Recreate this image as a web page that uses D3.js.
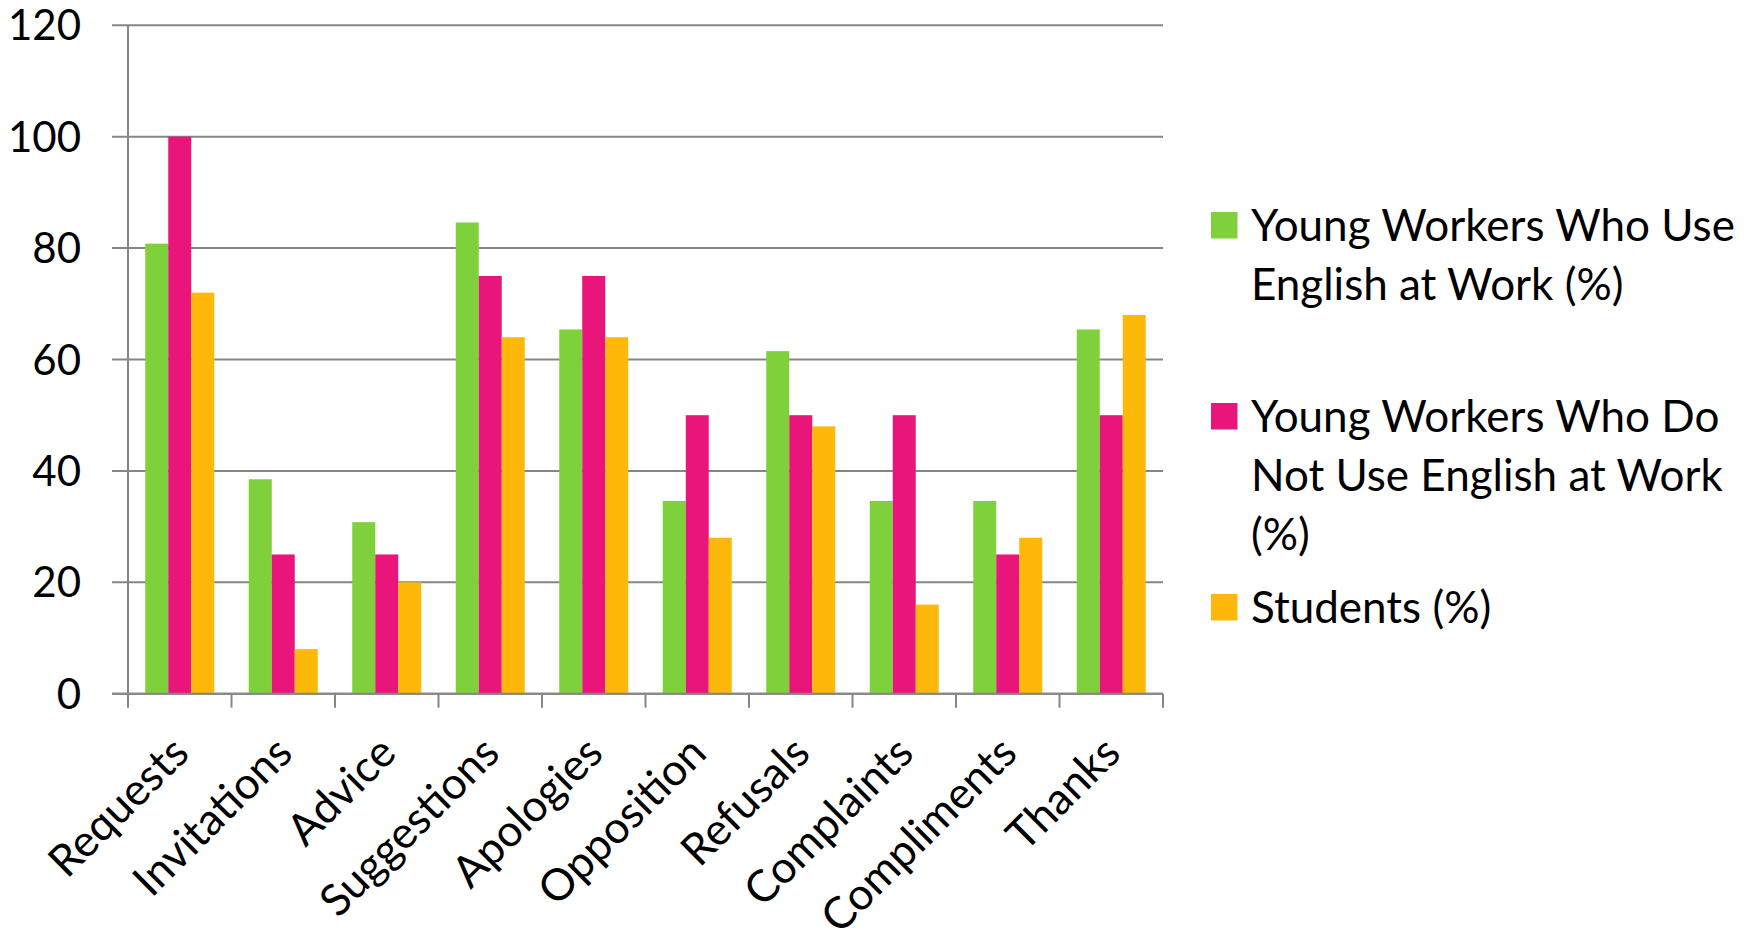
<!DOCTYPE html>
<html>
<head>
<meta charset="utf-8">
<script src="https://cdn.jsdelivr.net/npm/d3@7"></script>
<style>
  html, body { margin: 0; padding: 0; background: #ffffff; }
  svg { display: block; }
  text { font-family: Lato, "Open Sans", sans-serif; fill: #000; }
</style>
</head>
<body>
<script>
// Speech acts surveyed
const categories = ["Requests", "Invitations", "Advice", "Suggestions", "Apologies",
                    "Opposition", "Refusals", "Complaints", "Compliments", "Thanks"];

// Share of respondents (%) per group
const useEnglish    = [80.8, 38.5, 30.8, 84.6, 65.4, 34.6, 61.5, 34.6, 34.6, 65.4];
const noEnglish     = [100, 25, 25, 75, 75, 50, 50, 50, 25, 50];
const students      = [72, 8, 20, 64, 64, 28, 48, 16, 28, 68];

const seriesNames = [
  ["Young Workers Who Use", "English at Work (%)"],
  ["Young Workers Who Do", "Not Use English at Work", "(%)"],
  ["Students (%)"]
];
const seriesColors = ["#7FD13B", "#EA157A", "#FEB80A"];
const yTicks = [0, 20, 40, 60, 80, 100, 120];

const series = [useEnglish, noEnglish, students];

const W = 1758, H = 933;
const plot = { left: 128, right: 1163, top: 25.3, bottom: 693.7 };
const fontSize = "44px";

const svg = d3.select("body").append("svg").attr("width", W).attr("height", H);

const x = d3.scaleBand().domain(categories).range([plot.left, plot.right]).paddingInner(0).paddingOuter(0);
// three bars per category with a 150% gap shared around them
const x1 = d3.scaleBand().domain(d3.range(series.length))
  .range([0, x.bandwidth()]).paddingInner(0).paddingOuter(0.75);
const y = d3.scaleLinear().domain([0, 120]).range([plot.bottom, plot.top]);

const gridColor = "#868686";

// horizontal gridlines with their left tick stubs
svg.append("g").selectAll("line").data(yTicks).join("line")
  .attr("x1", plot.left - 16).attr("x2", plot.right)
  .attr("y1", d => y(d)).attr("y2", d => y(d))
  .attr("stroke", gridColor).attr("stroke-width", 2);

// y tick labels
svg.append("g").selectAll("text").data(yTicks).join("text")
  .attr("x", 81).attr("y", d => y(d) + 15)
  .attr("text-anchor", "end")
  .style("font-size", "42px")
  .text(d => d);

// bars
const groups = svg.append("g").selectAll("g").data(series).join("g")
  .attr("fill", (d, i) => seriesColors[i]);
groups.each(function(vals, si) {
  d3.select(this).selectAll("rect").data(vals).join("rect")
    .attr("x", (v, ci) => x(categories[ci]) + x1(si))
    .attr("width", x1.bandwidth())
    .attr("y", v => y(v))
    .attr("height", v => y(0) - y(v));
});

// value axis line
svg.append("line")
  .attr("x1", plot.left).attr("x2", plot.left)
  .attr("y1", plot.top).attr("y2", plot.bottom)
  .attr("stroke", gridColor).attr("stroke-width", 2);

// category axis with ticks at band boundaries
const xAxisY = y(0);
svg.append("line")
  .attr("x1", plot.left - 16).attr("x2", plot.right)
  .attr("y1", xAxisY).attr("y2", xAxisY)
  .attr("stroke", gridColor).attr("stroke-width", 2);
const boundaries = categories.map(c => x(c)).concat([plot.right]);
svg.append("g").selectAll("line").data(boundaries).join("line")
  .attr("x1", d => d).attr("x2", d => d)
  .attr("y1", xAxisY).attr("y2", xAxisY + 14)
  .attr("stroke", gridColor).attr("stroke-width", 2);

// rotated category labels
svg.append("g").selectAll("text").data(categories).join("text")
  .attr("transform", d => `translate(${x(d) + x.bandwidth() / 2 - 11},733) rotate(-45)`)
  .attr("text-anchor", "end")
  .attr("dy", "0.72em")
  .style("font-size", fontSize)
  .text(d => d);

// legend
const legendLineH = 59;
const legendStarts = [225, 416, 607];
const legend = svg.append("g");
seriesNames.forEach((lines, i) => {
  const cy = legendStarts[i];
  legend.append("rect")
    .attr("x", 1211).attr("y", cy - 13).attr("width", 26.5).attr("height", 26.5)
    .attr("fill", seriesColors[i]);
  lines.forEach((t, li) => {
    legend.append("text")
      .attr("x", 1251).attr("y", cy + li * legendLineH + 16)
      .style("font-size", fontSize)
      .text(t);
  });
});
</script>
</body>
</html>
